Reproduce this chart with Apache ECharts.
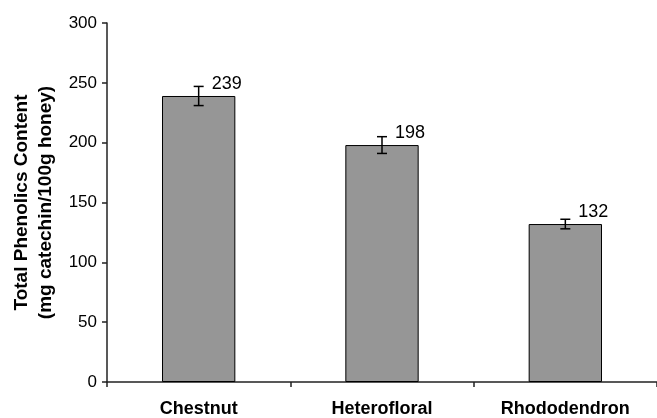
<!DOCTYPE html>
<html>
<head>
<meta charset="utf-8">
<script src="https://cdn.jsdelivr.net/npm/echarts@6/dist/echarts.min.js"></script>
<style>html,body{margin:0;padding:0;background:#fff;}#c{width:657px;height:418px;}</style>
</head>
<body>
<div id="c"></div>
<script>
var categories = ['Chestnut', 'Heterofloral', 'Rhododendron'];
var values = [239, 198, 132];
var errors = [8, 7, 4];
var yTicks = [0, 50, 100, 150, 200, 250, 300];

var chart = echarts.init(document.getElementById('c'));
var errData = values.map(function (v, i) { return [i, v - errors[i], v + errors[i]]; });
var FF = 'Liberation Sans, Arial, sans-serif';
chart.setOption({
  animation: false,
  grid: { left: 107, right: 0, top: 23, bottom: 35, containLabel: false },
  xAxis: {
    type: 'category',
    data: categories,
    axisLine: { lineStyle: { color: '#222', width: 1.5 } },
    axisTick: { show: true, length: 5, lineStyle: { color: '#222', width: 1.5 } },
    axisLabel: { color: '#000', fontFamily: FF, fontWeight: 'bold', fontSize: 18, margin: 18 }
  },
  yAxis: {
    type: 'value',
    min: 0, max: 300, interval: 50,
    name: 'Total Phenolics Content\n(mg catechin/100g honey)',
    nameLocation: 'middle',
    nameGap: 48,
    nameTextStyle: { color: '#000', fontFamily: FF, fontWeight: 'bold', fontSize: 19, lineHeight: 24 },
    axisLine: { show: true, lineStyle: { color: '#222', width: 1.5 } },
    axisTick: { show: true, length: 5, lineStyle: { color: '#222', width: 1.5 } },
    splitLine: { show: false },
    axisLabel: {
      color: '#000', fontFamily: FF, fontSize: 17, margin: 10,
      formatter: function (v) { return yTicks.indexOf(v) >= 0 ? String(v) : ''; }
    }
  },
  series: [
    {
      type: 'bar',
      data: values,
      barWidth: '40%',
      itemStyle: { color: '#969696', borderColor: '#000', borderWidth: 1 },
      label: {
        show: true, position: 'top', distance: 3, offset: [28, 0],
        color: '#000', fontFamily: FF, fontSize: 18
      }
    },
    {
      type: 'custom',
      data: errData,
      z: 10,
      renderItem: function (params, api) {
        var x = api.value(0);
        var lo = api.coord([x, api.value(1)]);
        var hi = api.coord([x, api.value(2)]);
        var hw = 5;
        var style = { stroke: '#000', lineWidth: 1.5 };
        return {
          type: 'group',
          children: [
            { type: 'line', shape: { x1: lo[0], y1: lo[1], x2: hi[0], y2: hi[1] }, style: style },
            { type: 'line', shape: { x1: lo[0] - hw, y1: lo[1], x2: lo[0] + hw, y2: lo[1] }, style: style },
            { type: 'line', shape: { x1: hi[0] - hw, y1: hi[1], x2: hi[0] + hw, y2: hi[1] }, style: style }
          ]
        };
      }
    }
  ]
});
</script>
</body>
</html>
